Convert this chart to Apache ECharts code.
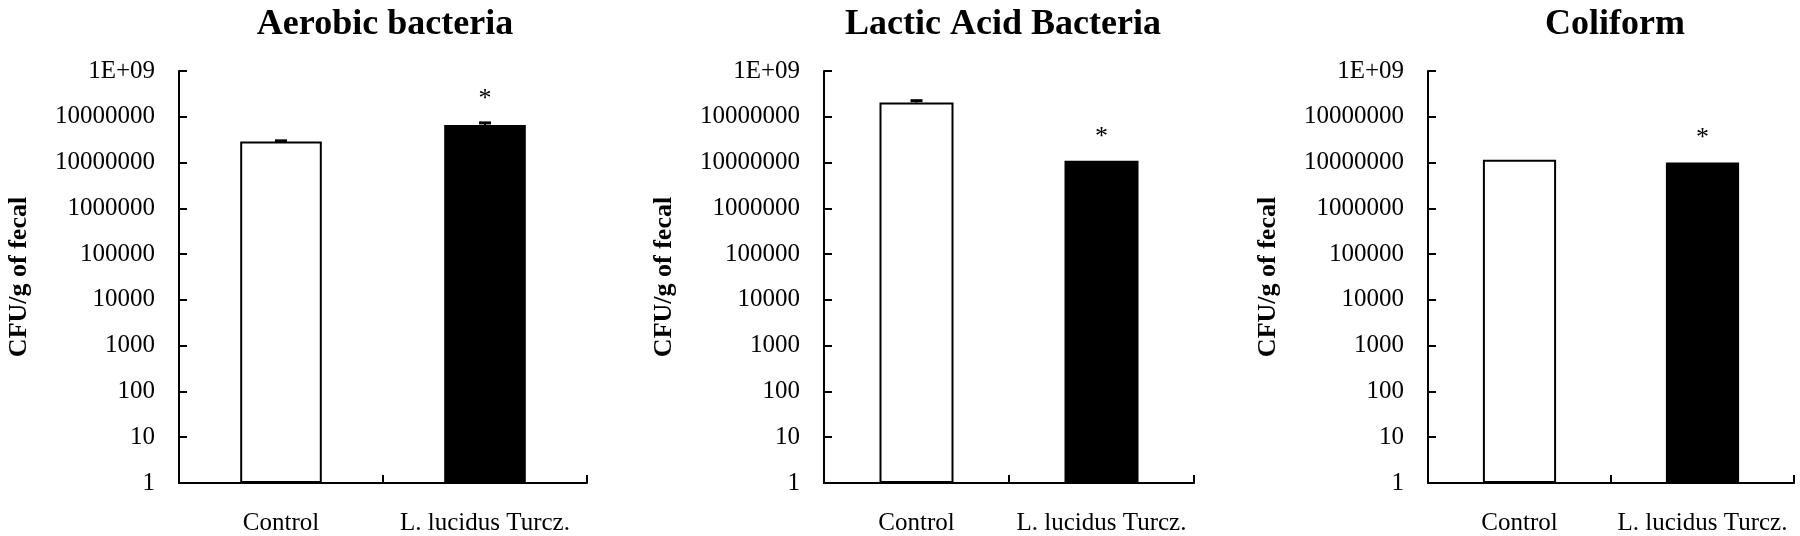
<!DOCTYPE html>
<html>
<head>
<meta charset="utf-8">
<script src="https://cdn.jsdelivr.net/npm/echarts@6/dist/echarts.min.js"></script>
<style>
  html, body { margin: 0; padding: 0; background: #fff; }
  #chart { width: 1800px; height: 536px; }
</style>
</head>
<body>
<div id="chart"></div>
<script>
// ---- Data ----
const categories = ['Control', 'L. lucidus Turcz.'];
const titles = ['Aerobic bacteria', 'Lactic Acid Bacteria', 'Coliform'];
const aerobicValues = [2.88e7, 6.65e7];
const aerobicErrors = [1e6, 7e6];
const lacticValues = [2.04e8, 1.09e7];
const lacticErrors = [2.1e7, 0];
const coliformValues = [1.15e7, 1.0e7];
const coliformErrors = [0, 0];
const significance = ['', '*'];
const yTickLabels = ['1', '10', '100', '1000', '10000', '100000', '1000000', '10000000', '10000000', '1E+09'];
const yAxisName = 'CFU/g of fecal';

// ---- Layout ----
const FONT = 'Liberation Serif';
const panels = [
  { left: 179, width: 408, titleX: 380, values: aerobicValues, errors: aerobicErrors },
  { left: 824, width: 370, titleX: 998, values: lacticValues, errors: lacticErrors },
  { left: 1428, width: 366, titleX: 1610, values: coliformValues, errors: coliformErrors }
];
const barColors = ['#ffffff', '#000000'];

const option = {
  backgroundColor: '#ffffff',
  animation: false,
  title: [],
  grid: [],
  xAxis: [],
  yAxis: [],
  series: []
};

panels.forEach((p, i) => {
  option.title.push({
    text: titles[i],
    left: p.titleX,
    top: 2,
    textAlign: 'center',
    textStyle: { fontFamily: FONT, fontWeight: 'bold', fontSize: 36, color: '#000' }
  });
  option.grid.push({ left: p.left, width: p.width, top: 71, bottom: 52, containLabel: false });
  option.xAxis.push({
    type: 'category',
    gridIndex: i,
    data: categories,
    boundaryGap: true,
    axisLine: { lineStyle: { color: '#000', width: 2 } },
    axisTick: { show: true, interval: 0, inside: true, length: 8, lineStyle: { color: '#000', width: 2 } },
    axisLabel: { interval: 0, fontFamily: FONT, fontSize: 25, color: '#000', margin: 28 },
    splitLine: { show: false }
  });
  option.yAxis.push({
    type: 'log',
    logBase: 10,
    gridIndex: i,
    min: 1,
    max: 1e9,
    interval: 1,
    name: yAxisName,
    nameLocation: 'middle',
    nameGap: 147,
    nameTextStyle: { fontFamily: FONT, fontWeight: 'bold', fontSize: 26, color: '#000' },
    axisLine: { show: true, lineStyle: { color: '#000', width: 2 } },
    axisTick: { show: true, inside: true, length: 8, lineStyle: { color: '#000', width: 2 } },
    axisLabel: {
      fontFamily: FONT, fontSize: 25, color: '#000', margin: 24,
      formatter: v => yTickLabels[Math.round(Math.log10(v))]
    },
    splitLine: { show: false }
  });
  option.series.push({
    type: 'bar',
    xAxisIndex: i,
    yAxisIndex: i,
    barWidth: '40%',
    data: p.values.map((v, j) => ({
      value: v,
      itemStyle: { color: barColors[j], borderColor: '#000', borderWidth: 2 }
    })),
    z: 2
  });
  option.series.push({
    type: 'custom',
    xAxisIndex: i,
    yAxisIndex: i,
    z: 3,
    data: p.values.map((v, j) => [j, v, v + p.errors[j]]),
    renderItem: (params, api) => {
      const base = api.coord([api.value(0), api.value(1)]);
      const top = api.coord([api.value(0), api.value(2)]);
      const sig = significance[params.dataIndex];
      const children = [];
      if (top[1] < base[1] - 0.5) {
        children.push({
          type: 'line',
          shape: { x1: base[0], y1: base[1], x2: top[0], y2: top[1] },
          style: { stroke: '#000', lineWidth: 2 }
        });
        children.push({
          type: 'line',
          shape: { x1: top[0] - 6, y1: top[1], x2: top[0] + 6, y2: top[1] },
          style: { stroke: '#000', lineWidth: 3 }
        });
      }
      if (sig) {
        children.push({
          type: 'text',
          style: {
            text: sig, x: top[0], y: top[1] - 11,
            fontFamily: FONT, fontSize: 26, fill: '#000',
            align: 'center', verticalAlign: 'bottom'
          }
        });
      }
      return { type: 'group', children };
    }
  });
});

const chart = echarts.init(document.getElementById('chart'), null, { renderer: 'canvas' });
chart.setOption(option);
</script>
</body>
</html>
